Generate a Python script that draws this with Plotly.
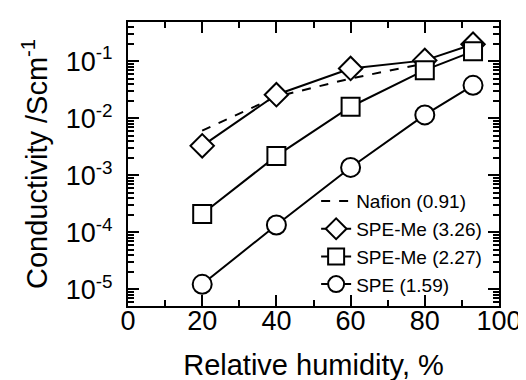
import numpy as np
import plotly.graph_objects as go

rh_nafion = [20, 40, 60, 80]
nafion = [6.1e-3, 0.024, 0.050, 0.092]

rh = [20, 40, 60, 80, 93]
spe_me_326 = [3.3e-3, 0.026, 0.075, 0.104, 0.20]
spe_me_227 = [2.1e-4, 2.2e-3, 0.016, 0.070, 0.15]
spe_159 = [1.23e-5, 1.35e-4, 1.38e-3, 0.0115, 0.038]

ytick_vals = [1e-5, 1e-4, 1e-3, 1e-2, 1e-1]
ytick_text = ["10<sup>-5</sup>", "10<sup>-4</sup>", "10<sup>-3</sup>", "10<sup>-2</sup>", "10<sup>-1</sup>"]
y_minor = [m * 10.0 ** e for e in range(-6, 0) for m in range(2, 10)]

FONT = "Liberation Sans"
fig = go.Figure()
fig.add_trace(go.Scatter(x=rh_nafion, y=nafion, mode="lines", name="Nafion (0.91)",
                         line=dict(color="black", width=2, dash="dash")))
fig.add_trace(go.Scatter(x=rh, y=spe_me_326, mode="lines+markers", name="SPE-Me (3.26)",
                         line=dict(color="black", width=2),
                         marker=dict(symbol="diamond", size=18, color="white",
                                     line=dict(color="black", width=2))))
fig.add_trace(go.Scatter(x=rh, y=spe_me_227, mode="lines+markers", name="SPE-Me (2.27)",
                         line=dict(color="black", width=2),
                         marker=dict(symbol="square", size=18, color="white",
                                     line=dict(color="black", width=2))))
fig.add_trace(go.Scatter(x=rh, y=spe_159, mode="lines+markers", name="SPE (1.59)",
                         line=dict(color="black", width=2),
                         marker=dict(symbol="circle", size=19, color="white",
                                     line=dict(color="black", width=2))))

fig.update_layout(
    width=526, height=380,
    margin=dict(l=120, r=26, t=13, b=80),
    paper_bgcolor="white", plot_bgcolor="white",
    font=dict(family=FONT, color="black"),
    showlegend=True,
    legend=dict(x=0.968, y=0.01, xanchor="right", yanchor="bottom",
                bgcolor="rgba(0,0,0,0)", font=dict(size=19, family=FONT),
                itemwidth=30, tracegroupgap=0),
    annotations=[dict(text="Conductivity /Scm<sup>-1</sup>", textangle=-90,
                      xref="paper", yref="paper", x=0, y=0.5, xshift=-93,
                      xanchor="center", yanchor="middle", showarrow=False,
                      font=dict(size=29, family=FONT, color="black"))],
)
fig.update_xaxes(
    range=[0, 100], tickvals=[0, 20, 40, 60, 80, 100],
    ticks="inside", ticklen=11, tickwidth=1.5, tickcolor="black",
    minor=dict(tickvals=[10, 30, 50, 70, 90], ticks="inside", ticklen=6,
               tickwidth=1.5, tickcolor="black", showgrid=False),
    showline=True, linewidth=2, linecolor="black", mirror="allticks",
    showgrid=False, zeroline=False,
    tickfont=dict(size=27, family=FONT),
    ticklabelstandoff=-10,
    title=dict(text="Relative humidity, %", font=dict(size=29, family=FONT), standoff=19),
)
fig.update_yaxes(
    type="log", range=[-5.29, -0.31],
    tickvals=ytick_vals, ticktext=ytick_text,
    ticks="inside", ticklen=11, tickwidth=1.5, tickcolor="black",
    minor=dict(tickvals=y_minor, ticks="inside", ticklen=6,
               tickwidth=1.5, tickcolor="black", showgrid=False),
    showline=True, linewidth=2, linecolor="black", mirror="allticks",
    showgrid=False, zeroline=False,
    tickfont=dict(size=27, family=FONT),
    ticklabelstandoff=8,
)

fig.write_html("out.html")
